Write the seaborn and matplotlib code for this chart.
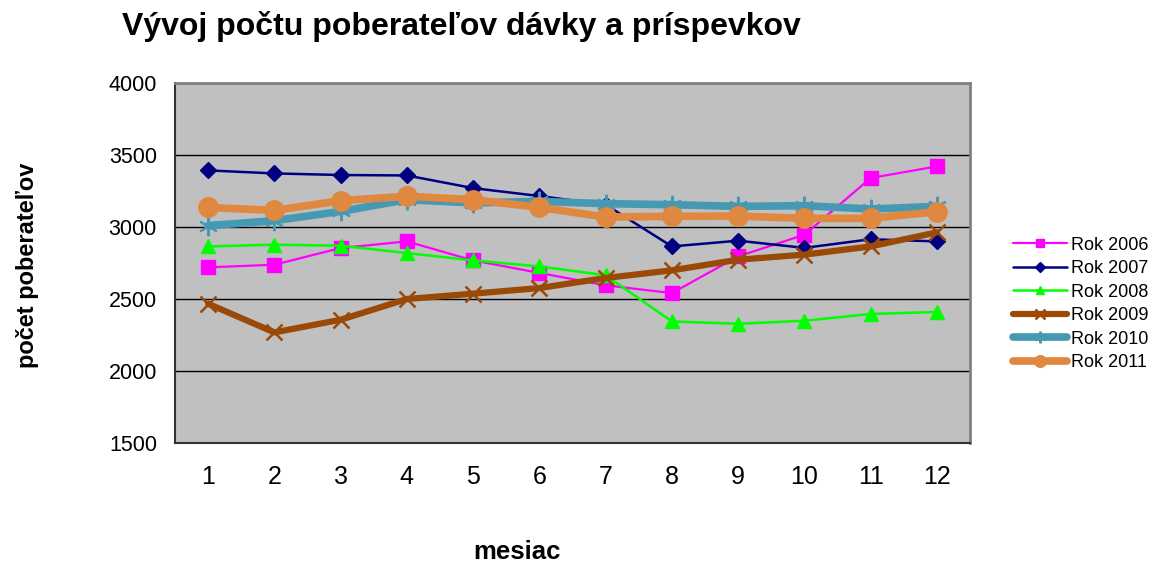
import numpy as np
import pandas as pd
import matplotlib
matplotlib.use("Agg")
import matplotlib.pyplot as plt
import seaborn as sns

mesiace = list(range(1, 13))
rok_2006 = [2720, 2738, 2854, 2900, 2768, 2681, 2595, 2541, 2796, 2946, 3340, 3421]
rok_2007 = [3393, 3372, 3361, 3358, 3270, 3215, 3155, 2865, 2905, 2855, 2915, 2900]
rok_2008 = [2865, 2877, 2870, 2819, 2768, 2726, 2665, 2344, 2328, 2349, 2396, 2410]
rok_2009 = [2467, 2268, 2356, 2500, 2537, 2576, 2646, 2699, 2773, 2808, 2865, 2963]
rok_2010 = [3009, 3044, 3108, 3190, 3167, 3178, 3162, 3155, 3143, 3148, 3125, 3143]
rok_2011 = [3136, 3115, 3183, 3213, 3190, 3136, 3069, 3074, 3076, 3060, 3060, 3106]

serie = ["Rok 2006", "Rok 2007", "Rok 2008", "Rok 2009", "Rok 2010", "Rok 2011"]
hodnoty = [rok_2006, rok_2007, rok_2008, rok_2009, rok_2010, rok_2011]

# vzhlad jednotlivych ciar (farba, hrubka, marker, velkost markera, hrubka markera)
styly = {
    "Rok 2006": ("#FF00FF", 1.6, "s", 10, 1),
    "Rok 2007": ("#000080", 1.8, "D", 8, 1),
    "Rok 2008": ("#00FF00", 1.8, "^", 10, 1),
    "Rok 2009": ("#9A4A06", 4.5, "x", 12, 1.8),
    "Rok 2010": ("#4699B2", 5.5, (6, 2, 0), 14, 1.5),
    "Rok 2011": ("#E0883F", 5.5, "o", 14, 1),
}

df = pd.DataFrame({"mesiac": mesiace * len(serie),
                   "pocet": sum(hodnoty, []),
                   "rok": np.repeat(serie, 12)})

sns.set_style("white")
plt.rcParams['font.family'] = ['Liberation Sans', 'DejaVu Sans']
plt.rcParams['text.color'] = 'black'
plt.rcParams['xtick.color'] = 'black'
plt.rcParams['ytick.color'] = 'black'

fig = plt.figure(figsize=(11.54, 5.64), dpi=100)
ax = fig.add_axes([175 / 1154, 121 / 564, 795 / 1154, 360 / 564])
ax.set_facecolor("#C0C0C0")

for rok in serie:
    farba, lw, mk, ms, mew = styly[rok]
    d = df[df["rok"] == rok]
    sns.lineplot(data=d, x="mesiac", y="pocet", ax=ax, color=farba, linewidth=lw,
                 marker=mk, markersize=ms, markeredgewidth=mew, markeredgecolor=farba,
                 label=rok, legend=False)

ax.set_xlim(0.5, 12.5)
ax.set_ylim(1500, 4000)
ax.set_yticks(range(1500, 4001, 500))
ax.set_xticks(mesiace)
ax.set_xticks(np.arange(0.5, 13, 1), minor=True)
ax.tick_params(axis="x", which="major", length=0, labelsize=18, pad=16)
ax.tick_params(axis="x", which="minor", length=7, width=1.2, color="#333333", direction="out")
ax.tick_params(axis="y", length=7, width=1.2, color="#333333", direction="out", labelsize=15.5, pad=6)
for y in [2000, 2500, 3000, 3500]:
    ax.axhline(y, color="black", linewidth=1, zorder=0.5)

for s in ["left", "bottom"]:
    ax.spines[s].set_color("#333333")
    ax.spines[s].set_linewidth(1.5)
for s in ["top", "right"]:
    ax.spines[s].set_color("#808080")
    ax.spines[s].set_linewidth(2)

ax.set_xlabel("")
ax.set_ylabel("")
fig.text(517 / 1154, 1 - 552 / 564, "mesiac", ha="center", va="center", fontsize=18.5, fontweight="bold")
fig.text(28 / 1154, 1 - 265 / 564, "počet poberateľov", ha="center", va="center", rotation=90,
         fontsize=17, fontweight="bold")
fig.text(122 / 1154, 1 - 27 / 564, "Vývoj počtu poberateľov dávky a príspevkov", ha="left", va="center",
         fontsize=23, fontweight="bold")

handles, labels = ax.get_legend_handles_labels()
fig.legend(handles, labels, loc="center left", bbox_to_anchor=(997 / 1154, 1 - 304 / 564),
           frameon=False, fontsize=13, handlelength=3.0, handletextpad=0.2, labelspacing=0.36,
           markerscale=0.6)

fig.savefig("out.png", dpi=100)
